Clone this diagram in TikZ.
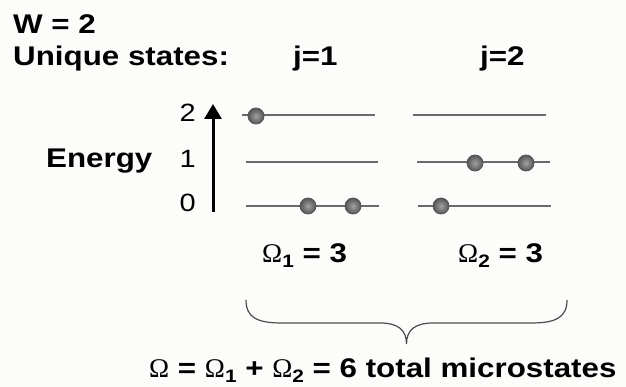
\documentclass[tikz,border=0pt]{standalone}
\usepackage{fontspec}
\setmainfont{Liberation Sans}
\newfontfamily\bsans{Liberation Sans}[FakeStretch=1.16]
\newfontfamily\omfont{Liberation Serif}
\usetikzlibrary{arrows.meta}
\definecolor{bgc}{HTML}{FCFCFA}
\definecolor{lvl}{HTML}{6A6A6A}
\definecolor{ballin}{HTML}{8A8A8A}
\definecolor{ballout}{HTML}{555555}
\newcommand{\Om}{{\omfont\mdseries\fontsize{27}{30}\selectfont Ω}}
\newcommand{\sbs}[1]{\raisebox{-5pt}{\fontsize{18}{20}\selectfont #1}}
\tikzset{
  lbl/.style={font=\bsans\bfseries\fontsize{27}{30}\selectfont, inner sep=0pt},
  num/.style={font=\bsans\fontsize{25}{28}\selectfont, inner sep=0pt},
  level/.style={draw=lvl, line width=1.5pt},
  ballnode/.style={circle, minimum size=16pt, inner sep=0pt, draw=ballout, line width=0.8pt, inner color=ballin!80!white, outer color=ballout},
  bracepath/.style={draw=black!70, line width=1.2pt},
  energyarrow/.style={line width=3pt, -{Triangle[width=17pt,length=15pt]}}
}
\begin{document}
\begin{tikzpicture}[x=1pt,y=-1pt]
\path[fill=bgc] (0,0) rectangle (626,387);
\useasboundingbox (0,0) rectangle (626,387);
% titles
\node[lbl, anchor=base west] (w) at (13,34) {W = 2};
\node[lbl, anchor=base west] (us) at (13,66) {Unique states:};
\node[lbl, anchor=base west] (j1) at (293,66) {j=1};
\node[lbl, anchor=base west] (j2) at (480,66) {j=2};
\node[lbl, anchor=base west] (en) at (46,168) {Energy};
% level numbers
\node[num, anchor=base east] (n2) at (196,122) {2};
\node[num, anchor=base east] (n1) at (196,168) {1};
\node[num, anchor=base east] (n0) at (196,212) {0};
% arrow
\coordinate (ab) at (213,212);
\coordinate (at) at (213,104);
\draw[energyarrow] (ab) -- (at);
% levels j=1
\coordinate (a2l) at (242,115); \coordinate (a2r) at (375,115);
\coordinate (a1l) at (246,162); \coordinate (a1r) at (378,162);
\coordinate (a0l) at (246,206); \coordinate (a0r) at (379,206);
% levels j=2
\coordinate (b2l) at (413,115); \coordinate (b2r) at (546,115);
\coordinate (b1l) at (417,162); \coordinate (b1r) at (550,162);
\coordinate (b0l) at (418,206); \coordinate (b0r) at (551,206);
\foreach \p in {a2,a1,a0,b2,b1,b0} { \draw[level] (\p l) -- (\p r); }
% balls
\node[ballnode] (p1) at (256,116) {};
\node[ballnode] (p2) at (308,206) {};
\node[ballnode] (p3) at (353,206) {};
\node[ballnode] (q1) at (475,163) {};
\node[ballnode] (q2) at (526,163) {};
\node[ballnode] (q3) at (441,206) {};
% omegas
\node[lbl, anchor=base west] (o1) at (262,262) {\Om\sbs{1} = 3};
\node[lbl, anchor=base west] (o2) at (458,262) {\Om\sbs{2} = 3};
% brace
\coordinate (bl) at (246,300);
\coordinate (br) at (567,300);
\coordinate (bt) at (406.5,344);
\draw[bracepath] (bl) .. controls (246,318) and (258,323) .. (282,323) -- (380,323)
   .. controls (398,323) and (406.5,330) .. (bt)
   .. controls (406.5,330) and (415,323) .. (433,323) -- (531,323)
   .. controls (555,323) and (567,318) .. (br);
% bottom text
\node[lbl, anchor=base west] (tot) at (149,377) {\Om{} = \Om\sbs{1} + \Om\sbs{2} = 6 total microstates};
\end{tikzpicture}
\end{document}
